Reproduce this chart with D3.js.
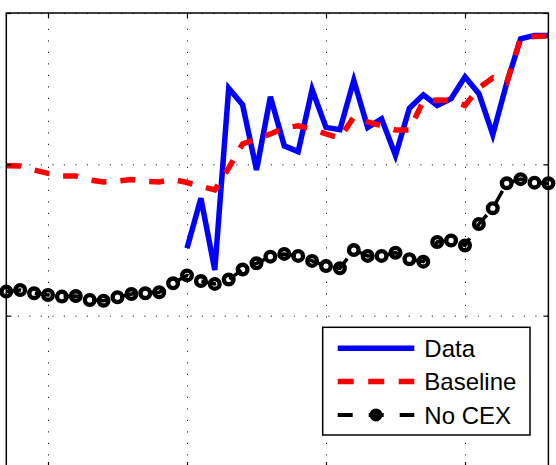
<!DOCTYPE html>
<html>
<head>
<meta charset="utf-8">
<script src="https://cdn.jsdelivr.net/npm/d3@7"></script>
<style>
  body { margin: 0; background: #fff; }
  svg { display: block; }
</style>
</head>
<body>
<div id="chart"></div>
<script>
// years on the x axis
const years = [1972, 1973, 1974, 1975, 1976, 1977, 1978, 1979, 1980, 1981,
               1982, 1983, 1984, 1985, 1986, 1987, 1988, 1989, 1990, 1991,
               1992, 1993, 1994, 1995, 1996, 1997, 1998, 1999, 2000, 2001,
               2002, 2003, 2004, 2005, 2006, 2007, 2008, 2009, 2010, 2011];

// "Data" only starts in 1985
const dataSeries = [null, null, null, null, null, null, null, null, null, null,
                    null, null, null, 1.445, 1.776, 1.302, 2.503, 2.393, 1.963, 2.447,
                    2.122, 2.084, 2.494, 2.244, 2.229, 2.555, 2.244, 2.301, 2.059, 2.371,
                    2.459, 2.389, 2.434, 2.578, 2.467, 2.196, 2.536, 2.829, 2.852, 2.852];

const baseline = [1.991, 1.989, 1.963, 1.940, 1.923, 1.923, 1.897, 1.884, 1.890, 1.900,
                  1.887, 1.884, 1.900, 1.880, 1.854, 1.831, 1.976, 2.135, 2.168, 2.201,
                  2.241, 2.255, 2.231, 2.201, 2.174, 2.313, 2.280, 2.255, 2.227, 2.227,
                  2.419, 2.425, 2.422, 2.389, 2.505, 2.571, 2.538, 2.835, 2.845, 2.849];

const noCex = [1.159, 1.170, 1.148, 1.137, 1.126, 1.130, 1.104, 1.099, 1.122, 1.143,
               1.148, 1.155, 1.214, 1.266, 1.229, 1.210, 1.239, 1.305, 1.346, 1.390,
               1.408, 1.395, 1.362, 1.328, 1.313, 1.434, 1.395, 1.395, 1.416, 1.373,
               1.357, 1.487, 1.497, 1.464, 1.606, 1.710, 1.875, 1.902, 1.879, 1.875];

const xTicks = [1975, 1985, 1995, 2005];
const yTicks = [0, 1, 2, 3];
const legendLabels = ["Data", "Baseline", "No CEX"];

const W = 556, H = 465;
const pLeft = 6.3, pRight = 548.4, pTop = 13, pBottom = 467;

const svg = d3.select('#chart').append('svg')
  .attr('width', W)
  .attr('height', H);

const x = d3.scaleLinear().domain([1972, 2011]).range([pLeft, pRight]);
const y = d3.scaleLinear().domain([0, 3]).range([pBottom, pTop]);

svg.append('defs').append('clipPath').attr('id', 'clip')
  .append('rect')
  .attr('x', pLeft).attr('y', pTop)
  .attr('width', pRight - pLeft).attr('height', pBottom - pTop);

// dotted grid
const gx = svg.append('g')
  .attr('transform', `translate(0,${pBottom})`)
  .call(d3.axisBottom(x).tickValues(xTicks).tickSize(-(pBottom - pTop)).tickFormat(''));
const gy = svg.append('g')
  .attr('transform', `translate(${pLeft},0)`)
  .call(d3.axisLeft(y).tickValues(yTicks).tickSize(-(pRight - pLeft)).tickFormat(''));
[gx, gy].forEach(g => {
  g.select('.domain').remove();
  g.selectAll('line')
    .attr('stroke', '#222')
    .attr('stroke-width', 1)
    .attr('stroke-dasharray', '1.2,10.3');
});

// series
const plot = svg.append('g').attr('clip-path', 'url(#clip)');

const line = d3.line()
  .defined(d => d[1] != null)
  .x(d => x(d[0]))
  .y(d => y(d[1]));

plot.append('path')
  .datum(years.map((yr, i) => [yr, dataSeries[i]]))
  .attr('d', line)
  .attr('fill', 'none')
  .attr('stroke', '#0000ff')
  .attr('stroke-width', 5.5)
  .attr('stroke-linejoin', 'miter');

plot.append('path')
  .datum(years.map((yr, i) => [yr, baseline[i]]))
  .attr('d', line)
  .attr('fill', 'none')
  .attr('stroke', '#ff0000')
  .attr('stroke-width', 5.5)
  .attr('stroke-dasharray', '15,14');

plot.append('path')
  .datum(years.map((yr, i) => [yr, noCex[i]]))
  .attr('d', line)
  .attr('fill', 'none')
  .attr('stroke', '#000')
  .attr('stroke-width', 3.5)
  .attr('stroke-dasharray', '15,14');

svg.append('g').selectAll('circle')
  .data(years.map((yr, i) => [yr, noCex[i]]))
  .enter().append('circle')
  .attr('cx', d => x(d[0]))
  .attr('cy', d => y(d[1]))
  .attr('r', 4.8)
  .attr('fill', 'none')
  .attr('stroke', '#000')
  .attr('stroke-width', 4.4);

// box and inward ticks
const tickAxes = [
  [d3.axisBottom(x).tickValues(xTicks), `translate(0,${pBottom})`],
  [d3.axisTop(x).tickValues(xTicks), `translate(0,${pTop})`],
  [d3.axisLeft(y).tickValues(yTicks), `translate(${pLeft},0)`],
  [d3.axisRight(y).tickValues(yTicks), `translate(${pRight},0)`]
];
tickAxes.forEach(([ax, tr]) => {
  const g = svg.append('g').attr('transform', tr)
    .call(ax.tickSize(-5).tickSizeOuter(0).tickFormat(''));
  g.select('.domain').remove();
  g.selectAll('line').attr('stroke', '#000').attr('stroke-width', 1.2);
});

svg.append('rect')
  .attr('x', pLeft).attr('y', pTop)
  .attr('width', pRight - pLeft).attr('height', pBottom - pTop)
  .attr('fill', 'none')
  .attr('stroke', '#000')
  .attr('stroke-width', 1.5);

// legend
const lg = svg.append('g').attr('transform', 'translate(322.7,327.3)');
lg.append('rect')
  .attr('width', 207.3).attr('height', 107.7)
  .attr('fill', '#fff')
  .attr('stroke', '#000')
  .attr('stroke-width', 1.5);

const styles = [
  { color: '#0000ff', width: 5.5, dash: null },
  { color: '#ff0000', width: 5.5, dash: '16,14.5' },
  { color: '#000', width: 4, dash: '15,16' }
];

const rows = lg.selectAll('.legends').data(legendLabels)
  .enter().append('g').classed('legends', true)
  .attr('transform', (d, i) => `translate(0,${21 + i * 33.3})`);

rows.append('line')
  .attr('x1', 15).attr('x2', 91.6)
  .attr('y1', 0).attr('y2', 0)
  .attr('stroke', (d, i) => styles[i].color)
  .attr('stroke-width', (d, i) => styles[i].width)
  .attr('stroke-dasharray', (d, i) => styles[i].dash);

rows.filter((d, i) => i === 2).append('circle')
  .attr('cx', 53.3).attr('cy', 0)
  .attr('r', 5)
  .attr('fill', '#000')
  .attr('stroke', '#000')
  .attr('stroke-width', 3);

rows.append('text')
  .attr('x', 101.6)
  .attr('y', 8.6)
  .attr('font-family', 'Liberation Sans, Arial, sans-serif')
  .attr('font-size', 24)
  .attr('fill', '#000')
  .text(d => d);
</script>
</body>
</html>
